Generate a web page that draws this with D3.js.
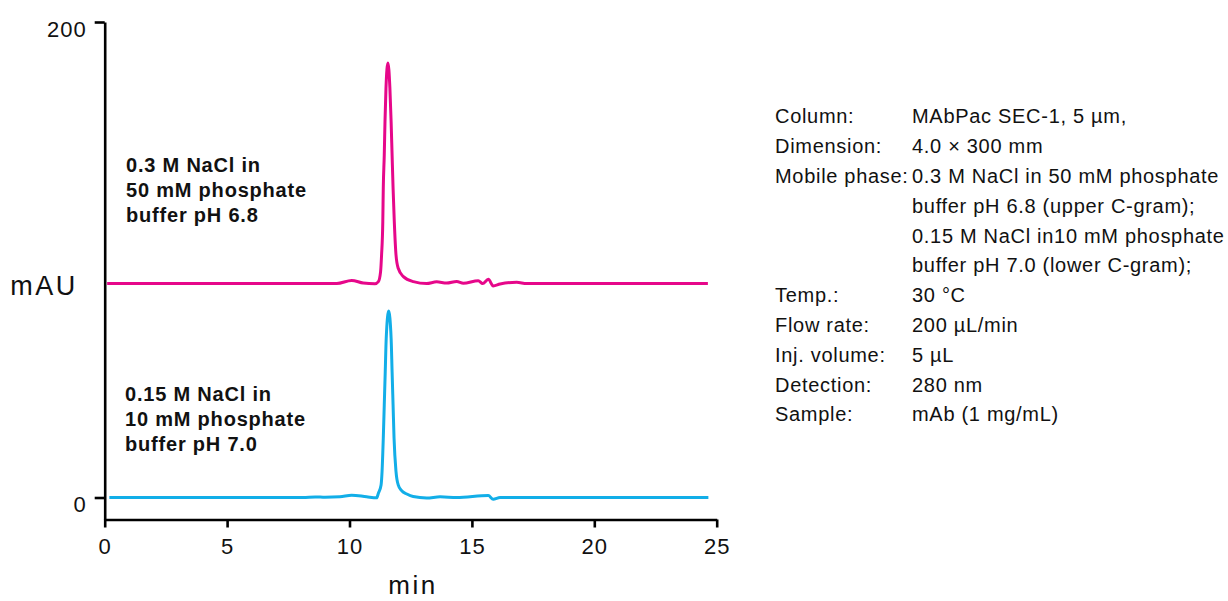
<!DOCTYPE html>
<html>
<head>
<meta charset="utf-8">
<script src="https://cdn.jsdelivr.net/npm/d3@7"></script>
<style>
  html, body { margin: 0; padding: 0; background: #ffffff; }
  svg { display: block; font-family: "Liberation Sans", Arial, Helvetica, sans-serif; }
</style>
</head>
<body>
<svg id="chart" width="1228" height="601"></svg>
<script>
// SEC chromatograms of a mAb with two mobile phases (time in min, signal in mAU)
const xTicks = [0, 5, 10, 15, 20, 25];
const yTicks = [0, 200];

// Upper trace: 0.3 M NaCl in 50 mM phosphate buffer pH 6.8 (drawn offset upward)
const upperOffset = 90;
const upperTime = [0.1, 8.0, 9.48, 10.09, 10.56, 11.04, 11.18, 11.27, 11.31, 11.36, 11.38, 11.42, 11.45, 11.49, 11.57,
  11.65, 11.70, 11.74, 11.78, 11.83, 11.90, 11.99, 12.20, 12.61, 13.15, 13.56, 13.97, 14.38, 14.65, 15.26, 15.44,
  15.67, 15.87, 16.15, 16.83, 17.24, 24.64];
const upperSignal = [0, 0, 0, 1.3, 0.2, -0.1, 0.8, 5.0, 12.0, 26.0, 40.2, 54.0, 68.1, 82.2, 92.8,
  82.2, 68.1, 54.0, 40.2, 26.0, 12.0, 6.4, 2.9, 0.8, 0, 0.7, 0.2, 0.9, 0.1, 1.2, 0,
  1.8, -1.0, -0.2, 0.5, 0, 0];

// Lower trace: 0.15 M NaCl in 10 mM phosphate buffer pH 7.0
const lowerTime = [0.19, 8.1, 8.6, 9.0, 9.61, 10.09, 10.70, 11.11, 11.18, 11.29, 11.33, 11.38, 11.42, 11.46, 11.50, 11.60,
  11.70, 11.74, 11.78, 11.82, 11.90, 11.99, 12.12, 12.34, 12.60, 13.15, 13.70, 14.38, 15.67, 15.87, 16.15, 24.66];
const lowerSignal = [0, 0, 0.25, 0.1, 0.3, 1.0, 0.3, -0.1, 1.8, 5.3, 10.9, 24.9, 38.9, 52.9, 67.0, 78.4,
  67.0, 52.9, 38.9, 24.9, 10.9, 5.3, 3.0, 1.5, 0.4, -0.2, 0.3, 0, 0.8, -0.7, 0, 0];

const upperLabel = ["0.3 M NaCl in", "50 mM phosphate", "buffer pH 6.8"];
const lowerLabel = ["0.15 M NaCl in", "10 mM phosphate", "buffer pH 7.0"];

const methodLabels = ["Column:", "Dimension:", "Mobile phase:", "", "", "", "Temp.:", "Flow rate:", "Inj. volume:", "Detection:", "Sample:"];
const methodValues = ["MAbPac SEC-1, 5 µm,", "4.0 × 300 mm", "0.3 M NaCl in 50 mM phosphate", "buffer pH 6.8 (upper C-gram);",
  "0.15 M NaCl in10 mM phosphate", "buffer pH 7.0 (lower C-gram);", "30 °C", "200 µL/min", "5 µL", "280 nm", "mAb (1 mg/mL)"];

const svg = d3.select("#chart");

const x = d3.scaleLinear().domain([0, 25]).range([104.7, 716.7]);
const y = d3.scaleLinear().domain([-9.25, 200]).range([519.5, 22]);

const line = d3.line()
  .x(d => x(d[0]))
  .y(d => y(d[1]))
  .curve(d3.curveMonotoneX);

const upperPts = upperTime.map((t, i) => [t, upperSignal[i] + upperOffset]);
const lowerPts = lowerTime.map((t, i) => [t, lowerSignal[i]]);

svg.append("path").datum(upperPts)
  .attr("d", line).attr("fill", "none")
  .attr("stroke", "#e6078a").attr("stroke-width", 3)
  .attr("stroke-linejoin", "round");

svg.append("path").datum(lowerPts)
  .attr("d", line).attr("fill", "none")
  .attr("stroke", "#12aee8").attr("stroke-width", 3)
  .attr("stroke-linejoin", "round");

// Axes
const xAxis = svg.append("g")
  .attr("transform", `translate(0,${y.range()[0]})`)
  .call(d3.axisBottom(x).tickValues(xTicks).tickSize(8).tickSizeOuter(0).tickFormat(d3.format("d")));
const yAxis = svg.append("g")
  .attr("transform", `translate(${x.range()[0]},0)`)
  .call(d3.axisLeft(y).tickValues(yTicks).tickSize(10).tickSizeOuter(0).tickFormat(d3.format("d")));

[xAxis, yAxis].forEach(g => {
  g.select(".domain").attr("stroke", "#000").attr("stroke-width", 2.6);
  g.selectAll(".tick line").attr("stroke", "#000").attr("stroke-width", 2.6);
  g.selectAll(".tick text")
    .attr("fill", "#111")
    .style("font-size", "22px")
    .style("letter-spacing", "1px");
});
xAxis.selectAll(".tick text").attr("y", 34.5).attr("dy", 0);
yAxis.selectAll(".tick text").attr("x", -18).attr("dy", 0).attr("y", 14);

// Axis titles
svg.append("text")
  .attr("x", 44).attr("y", 295)
  .attr("text-anchor", "middle")
  .style("font-size", "27px").style("letter-spacing", "2.5px")
  .attr("fill", "#111")
  .text("mAU");
svg.append("text")
  .attr("x", 413).attr("y", 594)
  .attr("text-anchor", "middle")
  .style("font-size", "26px").style("letter-spacing", "2.5px")
  .attr("fill", "#111")
  .text("min");

// Condition labels next to each trace
function block(lines, x0, y0) {
  svg.append("g").selectAll("text").data(lines).join("text")
    .attr("x", x0).attr("y", (d, i) => y0 + i * 25)
    .style("font-size", "20px").style("font-weight", "bold").style("letter-spacing", "0.8px")
    .attr("fill", "#111")
    .text(d => d);
}
block(upperLabel, 126, 171.7);
block(lowerLabel, 125, 401);

// Method conditions table
const rowStep = 29.8;
const table = svg.append("g").attr("fill", "#111")
  .style("font-size", "20px").style("letter-spacing", "0.7px");
table.selectAll("text.lab").data(methodLabels).join("text")
  .attr("class", "lab")
  .attr("x", 775).attr("y", (d, i) => 123.3 + i * rowStep)
  .text(d => d);
table.selectAll("text.val").data(methodValues).join("text")
  .attr("class", "val")
  .attr("x", 912).attr("y", (d, i) => 123.3 + i * rowStep)
  .text(d => d);
</script>
</body>
</html>
